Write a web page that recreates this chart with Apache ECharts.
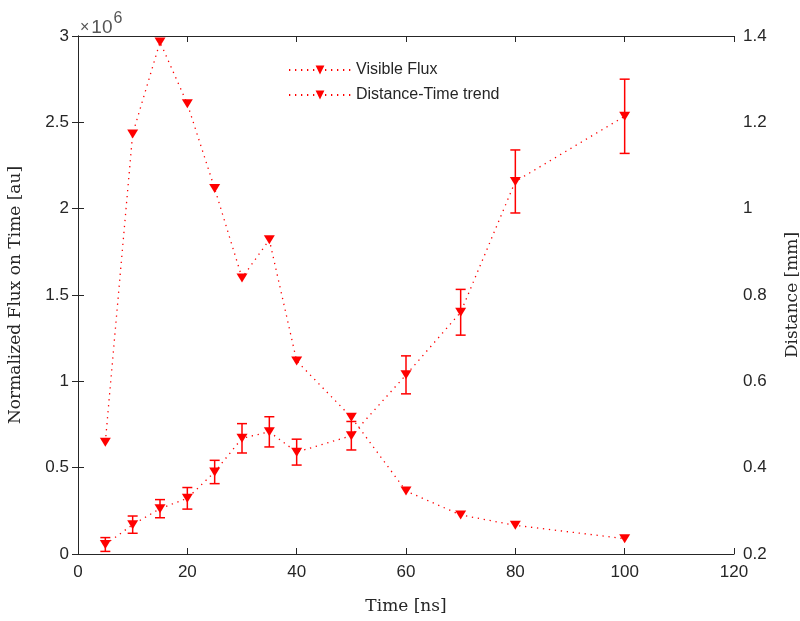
<!DOCTYPE html>
<html>
<head>
<meta charset="utf-8">
<script src="https://cdn.jsdelivr.net/npm/echarts@6/dist/echarts.min.js"></script>
<style>html,body{margin:0;padding:0;background:#fff}#c{width:800px;height:621px}</style>
</head>
<body>
<div id="c"></div>
<script>
// Time axis values (ns)
var times = [5, 10, 15, 20, 25, 30, 35, 40, 50, 60, 70, 80, 100];
// Visible flux (left axis, au)
var fluxValues = [0.647e6, 2.433e6, 2.965e6, 2.607e6, 2.117e6, 1.599e6, 1.82e6, 1.118e6, 0.792e6, 0.365e6, 0.226e6, 0.166e6, 0.089e6];
// Distance (right axis, mm)
var distValues = [0.222, 0.268, 0.305, 0.329, 0.390, 0.468, 0.483, 0.436, 0.474, 0.615, 0.760, 1.063, 1.214];
// Distance error (half length, mm)
var distErrors = [0.016, 0.020, 0.021, 0.025, 0.027, 0.034, 0.035, 0.030, 0.033, 0.044, 0.053, 0.073, 0.086];
// Tick settings
var xTicks = {min: 0, max: 120, interval: 20};
var leftTicks = {min: 0, max: 3e6, interval: 0.5e6};
var rightTicks = {min: 0.2, max: 1.4, interval: 0.2};
var seriesNames = ['Visible Flux', 'Distance-Time trend'];

var RED = '#ff0000';
var AX = '#262626';
var tickFont = {color: AX, fontSize: 17, fontFamily: 'Liberation Sans'};
var nameFont = {color: AX, fontSize: 17, fontFamily: 'DejaVu Serif'};

function pairs(xs, ys) { return xs.map(function (x, i) { return [x, ys[i]]; }); }
var errData = times.map(function (x, i) { return [x, distValues[i] - distErrors[i], distValues[i] + distErrors[i]]; });

var chart = echarts.init(document.getElementById('c'), null, {renderer: 'canvas'});
var dotted = {color: RED, width: 1.3, type: [1.3, 4.7]};
chart.setOption({
  animation: false,
  backgroundColor: '#fff',
  grid: {left: 78, right: 66, top: 36, bottom: 67, containLabel: false, outerBoundsMode: 'none'},
  legend: {
    data: seriesNames,
    orient: 'vertical',
    left: 283, top: 57,
    itemWidth: 62, itemHeight: 11, itemGap: 9,
    textStyle: {color: AX, fontSize: 16, fontFamily: 'Liberation Sans'},
    inactiveColor: '#ccc'
  },
  xAxis: [{
    type: 'value', min: xTicks.min, max: xTicks.max, interval: xTicks.interval,
    position: 'bottom',
    name: 'Time [ns]', nameLocation: 'middle', nameGap: 44, nameTextStyle: nameFont,
    axisLine: {lineStyle: {color: AX, width: 1}},
    axisTick: {inside: true, length: 6, lineStyle: {color: AX}},
    axisLabel: Object.assign({margin: 10}, tickFont),
    splitLine: {show: false}
  }, {
    type: 'value', min: xTicks.min, max: xTicks.max, interval: xTicks.interval,
    position: 'top',
    axisLine: {show: true, lineStyle: {color: AX, width: 1}},
    axisTick: {inside: true, length: 6, lineStyle: {color: AX}},
    axisLabel: {show: false},
    splitLine: {show: false}
  }],
  yAxis: [{
    type: 'value', min: leftTicks.min, max: leftTicks.max, interval: leftTicks.interval,
    position: 'left',
    name: 'Normalized Flux on Time [au]', nameLocation: 'middle', nameGap: 54, nameTextStyle: nameFont,
    axisLine: {show: true, lineStyle: {color: AX, width: 1}},
    axisTick: {show: true, inside: true, length: 6, lineStyle: {color: AX}},
    axisLabel: Object.assign({margin: 9, formatter: function (v) { return String(Math.round(v / 1e5) / 10); }}, tickFont),
    splitLine: {show: false}
  }, {
    type: 'value', min: rightTicks.min, max: rightTicks.max, interval: rightTicks.interval,
    position: 'right',
    name: 'Distance [mm]', nameLocation: 'middle', nameGap: 50, nameRotate: 90, nameTextStyle: nameFont,
    axisLine: {show: true, lineStyle: {color: AX, width: 1}},
    axisTick: {show: true, inside: true, length: 6, lineStyle: {color: AX}},
    axisLabel: Object.assign({margin: 9, formatter: function (v) { return String(Math.round(v * 10) / 10); }}, tickFont),
    splitLine: {show: false}
  }],
  graphic: [{
    type: 'text', left: 80, top: 11,
    style: {
      text: '{a|×}{b|10}{c|6}',
      rich: {
        a: {fontSize: 16, fill: '#555', fontFamily: 'Liberation Sans', padding: [8, 2, 0, 0]},
        b: {fontSize: 19, fill: '#555', fontFamily: 'Liberation Sans', padding: [8, 1, 0, 0]},
        c: {fontSize: 16, fill: '#555', fontFamily: 'Liberation Sans', padding: [0, 0, 10, 0]}
      }
    }
  }],
  series: [{
    name: seriesNames[0], type: 'line', xAxisIndex: 0, yAxisIndex: 0,
    data: pairs(times, fluxValues),
    symbol: 'triangle', symbolRotate: 180, symbolSize: [11, 9],
    itemStyle: {color: RED},
    lineStyle: dotted
  }, {
    name: seriesNames[1], type: 'line', xAxisIndex: 0, yAxisIndex: 1,
    data: pairs(times, distValues),
    symbol: 'triangle', symbolRotate: 180, symbolSize: [11, 9],
    itemStyle: {color: RED},
    lineStyle: dotted
  }, {
    name: 'err', type: 'custom', xAxisIndex: 0, yAxisIndex: 1,
    data: errData,
    encode: {x: 0, y: [1, 2]},
    renderItem: function (params, api) {
      var lo = api.coord([api.value(0), api.value(1)]);
      var hi = api.coord([api.value(0), api.value(2)]);
      var hw = 5;
      var st = {stroke: RED, lineWidth: 1.5};
      return {type: 'group', children: [
        {type: 'line', shape: {x1: lo[0], y1: lo[1], x2: hi[0], y2: hi[1]}, style: st},
        {type: 'line', shape: {x1: lo[0] - hw, y1: lo[1], x2: lo[0] + hw, y2: lo[1]}, style: st},
        {type: 'line', shape: {x1: hi[0] - hw, y1: hi[1], x2: hi[0] + hw, y2: hi[1]}, style: st}
      ]};
    },
    z: 1
  }]
});
</script>
</body>
</html>
